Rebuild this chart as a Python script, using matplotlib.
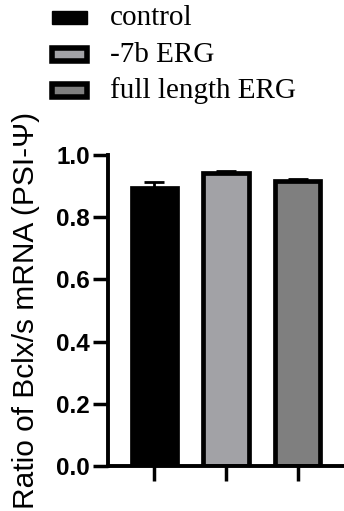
import matplotlib
matplotlib.use("Agg")
import matplotlib.pyplot as plt
from matplotlib.patches import Rectangle

groups = ["control", "-7b ERG", "full length ERG"]
means = [0.893, 0.941, 0.917]
errors = [0.020, 0.008, 0.006]
fills = ["#000000", "#a2a2a6", "#7f7f7f"]
yticks = [0.0, 0.2, 0.4, 0.6, 0.8, 1.0]

W, H = 344, 511
fig = plt.figure(figsize=(W / 100, H / 100), dpi=100)

# axes box in pixel coordinates (left, top, right, bottom)
L, T, R, B = 108, 155, 344, 466
ax = fig.add_axes([L / W, 1 - B / H, (R - L) / W, (B - T) / H])

x = list(range(len(groups)))
ax.bar(x, means, width=0.63, color=fills, edgecolor="black", linewidth=3.4, zorder=2)
ax.errorbar(x, means, yerr=[[0] * 3, errors], fmt="none", ecolor="black",
            elinewidth=2, capsize=7, capthick=2, zorder=1)

ax.set_xlim(-0.65, 2.65)
ax.set_ylim(0, 1.0)
ax.set_yticks(yticks)
ax.set_yticklabels([f"{v:.1f}" for v in yticks], fontfamily="Liberation Sans",
                   fontweight="bold", fontsize=17.5)
ax.set_xticks(x)
ax.set_xticklabels([])
for s in ["top", "right"]:
    ax.spines[s].set_visible(False)
for s in ["left", "bottom"]:
    ax.spines[s].set_linewidth(2.8)
ax.spines["left"].set_bounds(0, 1.0)
ax.tick_params(axis="y", length=11, width=2.5, pad=2)
ax.tick_params(axis="x", length=11, width=2.5)

fig.text(26 / W, 1 - 310 / H, "Ratio of Bclx/s mRNA (PSI-Ψ)", rotation=90,
         ha="center", va="center", fontfamily="Liberation Sans", fontsize=21.5)

# legend drawn in figure coordinates
rows = [18, 55, 91]
for i, (g, c) in enumerate(zip(groups, fills)):
    cy = rows[i]
    lw = 1 if i == 0 else 4.0
    fig.add_artist(Rectangle((52 / W, 1 - (cy + 6.5) / H), 35 / W, 13 / H,
                             transform=fig.transFigure, facecolor=c,
                             edgecolor="black", linewidth=lw))
    fig.text(110 / W, 1 - cy / H, g, ha="left", va="center",
             fontfamily="Liberation Serif", fontsize=21)

fig.savefig("out.png", dpi=100)
